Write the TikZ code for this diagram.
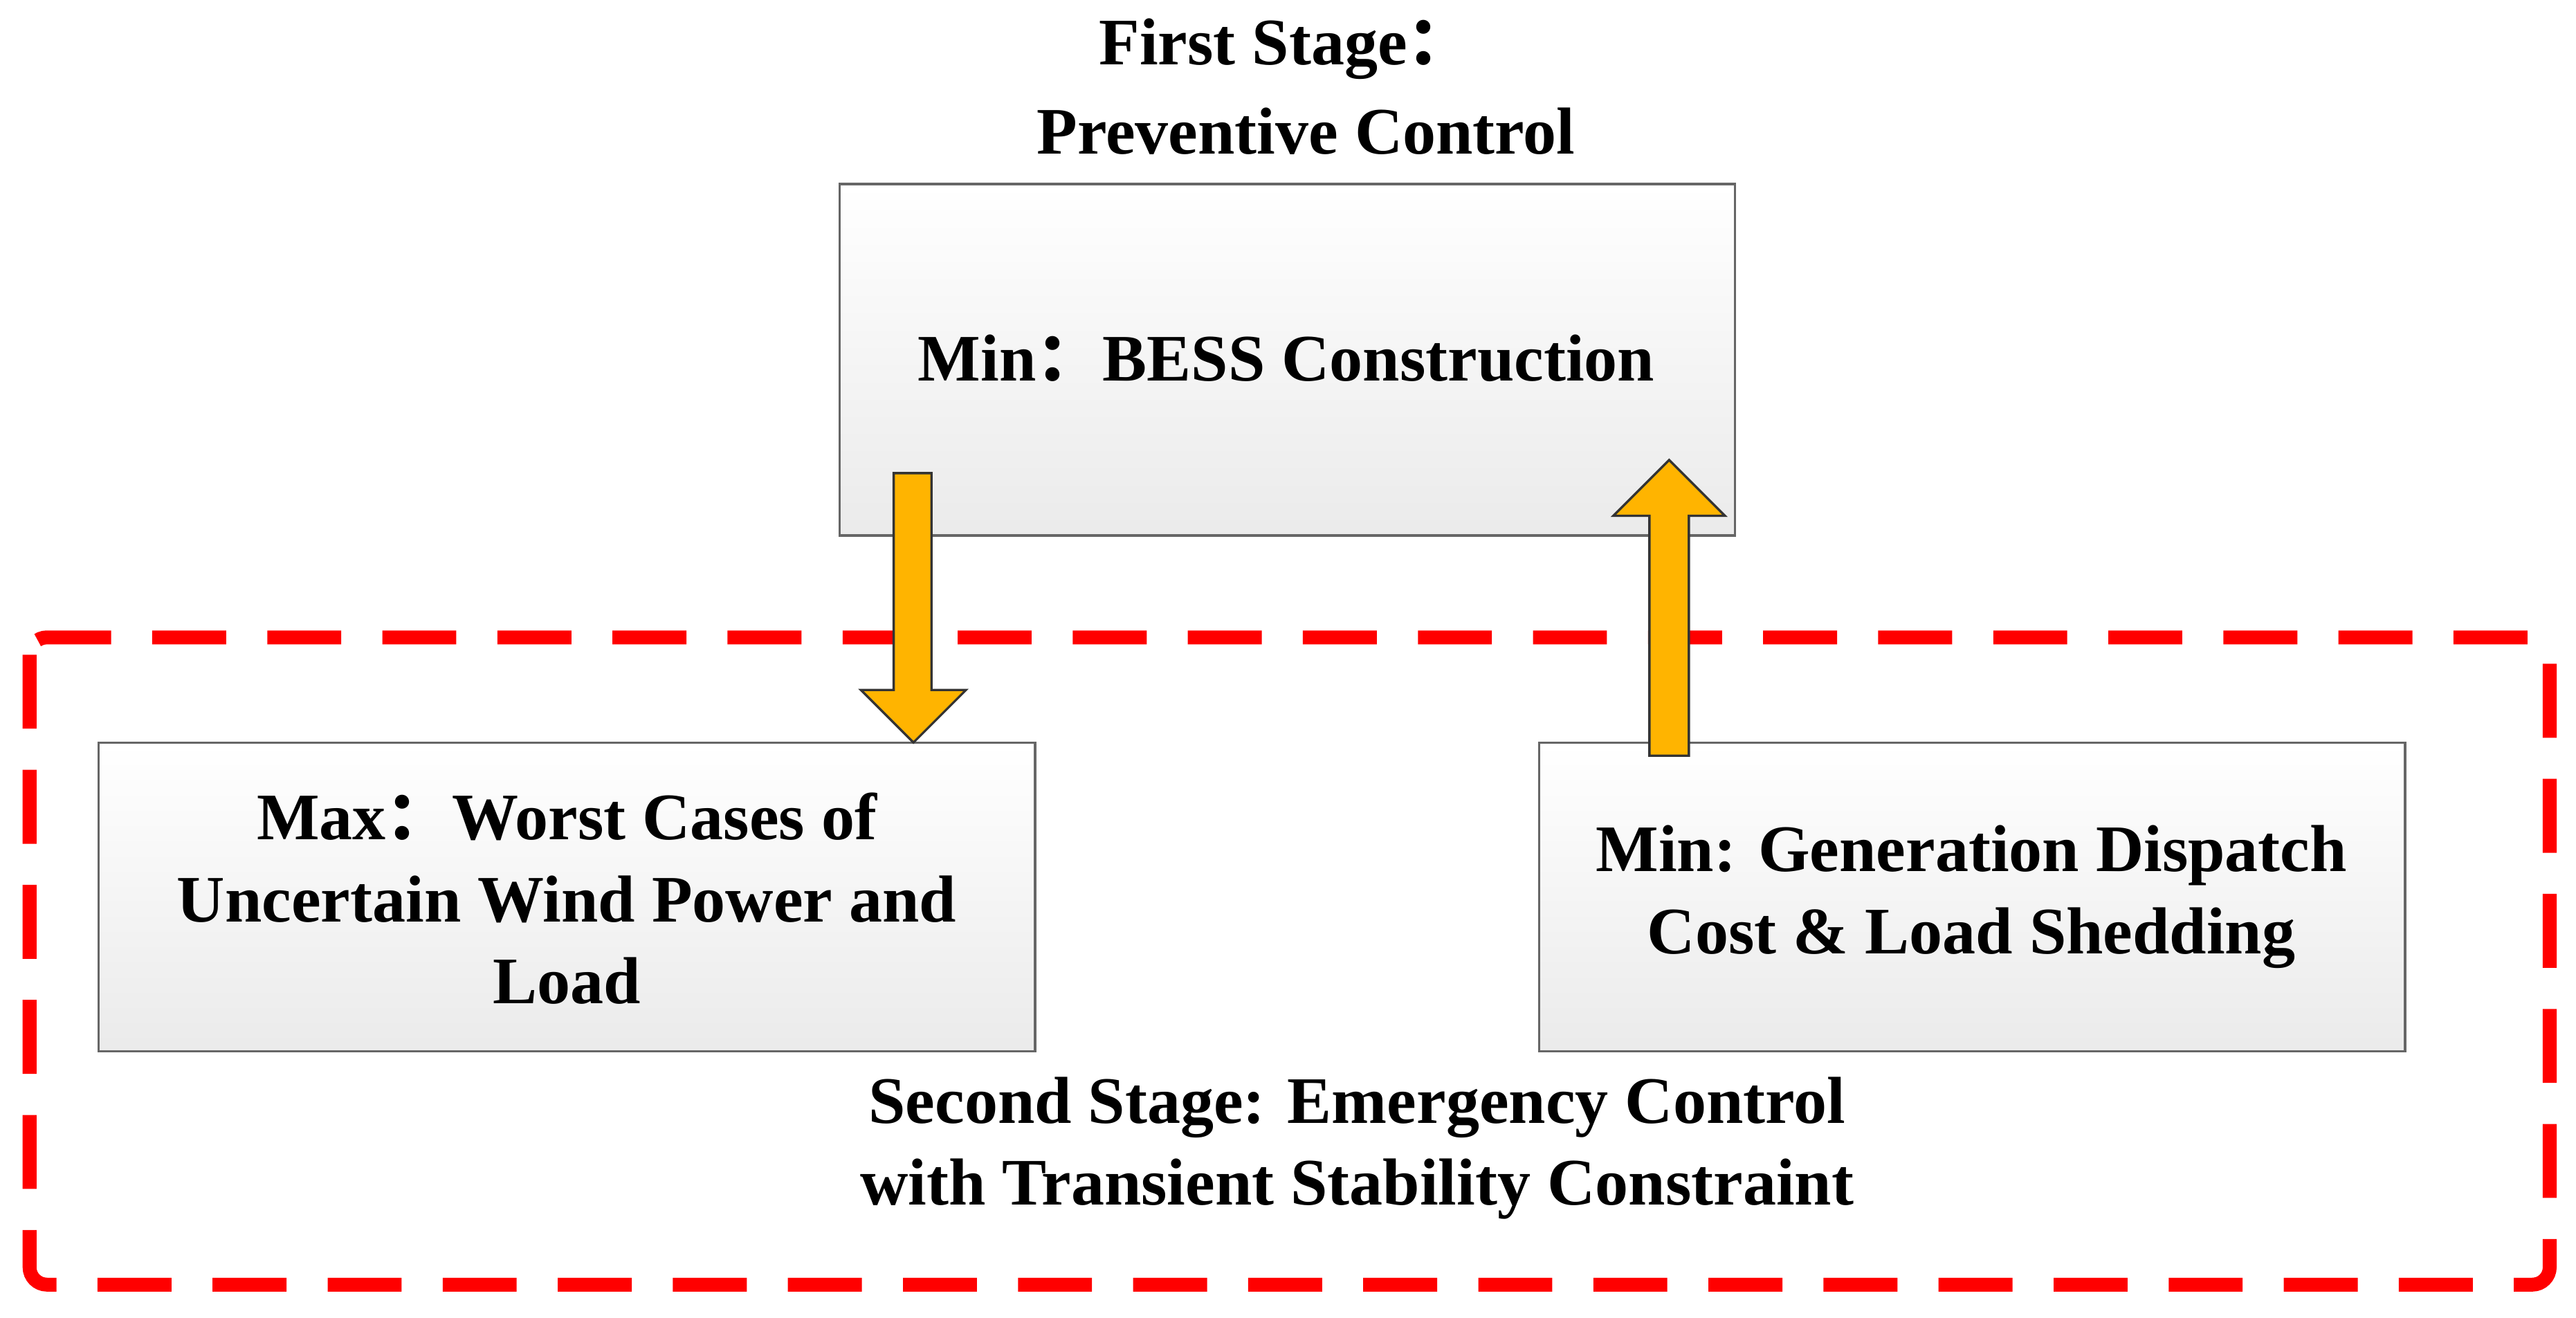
\documentclass[tikz,border=0pt]{standalone}
\usepackage{fontspec}
\setmainfont{Liberation Serif}
\newfontfamily\cjk{Noto Sans CJK SC}
\newcommand{\fc}{{\cjk ：}}
\begin{document}
\begin{tikzpicture}[x=0.01cm,y=-0.01cm,
  box/.style={draw=black!60,line width=0.4pt,top color=white,bottom color=black!8},
  txt/.style={font=\fontsize{11.5}{14.2}\selectfont\bfseries,align=center},
  arr/.style={fill=orange!70!yellow!95!black,fill=arrowc,draw=black!80,line width=0.4pt}]
\definecolor{arrowc}{RGB}{255,180,0}
\useasboundingbox (0,0) rectangle (1568,802);
\path[box] (511,112) rectangle (1056,326);
\node[txt] (top) at (783,218) {Min\fc BESS Construction};
\node[txt] (t1) at (783,30) {First Stage\fc};
\node[txt] (t2) at (795,80) {Preventive Control};
\path[box] (60,452) rectangle (630,640);
\node[txt] (left) at (345,547) {Max\fc Worst Cases of\\Uncertain Wind Power and\\Load};
\path[box] (937,452) rectangle (1464,640);
\node[txt] (right) at (1200,546) {Min: Generation Dispatch\\Cost \& Load Shedding};
\draw[red,line width=2.4pt,dash pattern=on 0.45cm off 0.25cm,rounded corners=3pt] (18,388) rectangle (1552,782);
\node[txt] (b) at (826,699) {Second Stage: Emergency Control\\with Transient Stability Constraint};
\draw[arr] (544,288) -- (567,288) -- (567,420) -- (588,420) -- (556,452) -- (524,420) -- (544,420) -- cycle;
\draw[arr] (1004,460) -- (1028,460) -- (1028,314) -- (1050,314) -- (1016,280) -- (982,314) -- (1004,314) -- cycle;
\end{tikzpicture}
\end{document}
